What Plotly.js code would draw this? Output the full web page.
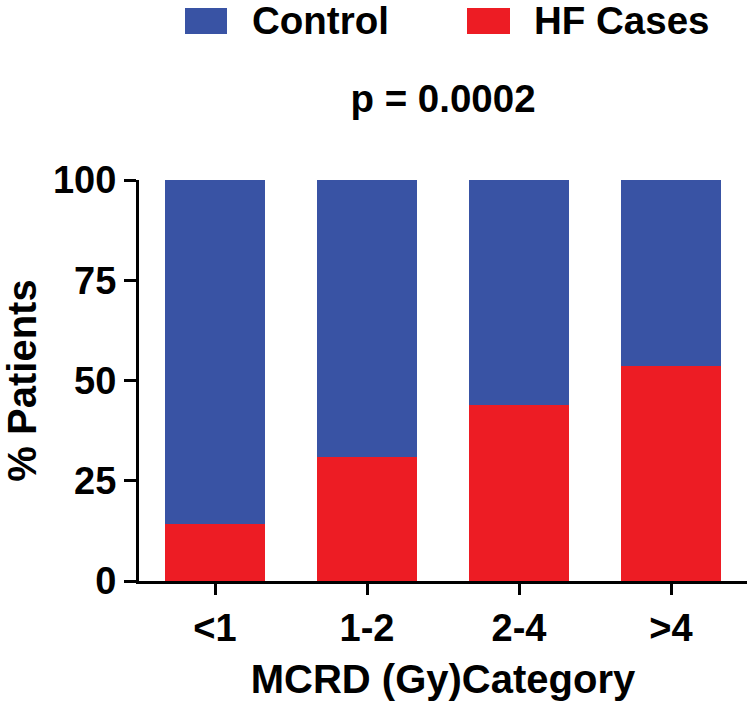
<!DOCTYPE html>
<html>
<head>
<meta charset="utf-8">
<script src="https://cdn.plot.ly/plotly-3.0.1.min.js"></script>
<style>html,body{margin:0;padding:0;background:#fff;}#chart{width:755px;height:712px;}</style>
</head>
<body>
<div id="chart"></div>
<script>
// ---- data ----
const categories = ['<1', '1-2', '2-4', '>4'];
const hfCases = [14.3, 31.0, 44.0, 53.6];
const control = [85.7, 69.0, 56.0, 46.4];
const seriesNames = ['Control', 'HF Cases'];
const seriesColors = ['#3953A4', '#ED1C24'];
const yTicks = [0, 25, 50, 75, 100];
const pText = 'p = 0.0002';
const xTitle = 'MCRD (Gy)Category';
const yTitle = '% Patients';

const FONT = 'Liberation Sans, Arial, Helvetica, sans-serif';
const W = 755, H = 712;
const M = {l: 139, r: 8, t: 180, b: 131};
const pw = W - M.l - M.r, ph = H - M.t - M.b;
const px = v => (v - M.l) / pw;          // pixel x -> paper x
const py = v => (H - M.b - v) / ph;      // pixel y -> paper y

const traces = [
  {type: 'bar', x: categories, y: hfCases, name: seriesNames[1],
   marker: {color: seriesColors[1], line: {width: 0}}, showlegend: false},
  {type: 'bar', x: categories, y: control, name: seriesNames[0],
   marker: {color: seriesColors[0], line: {width: 0}}, showlegend: false}
];

const f = s => ({family: FONT, size: s, color: '#000', weight: 'bold'});

const layout = {
  width: W, height: H,
  margin: M,
  paper_bgcolor: '#fff', plot_bgcolor: '#fff',
  barmode: 'stack',
  bargap: 0.336,
  showlegend: false,
  title: {text: pText, font: f(38.5), xref: 'paper', x: 0.5, xanchor: 'center',
          yref: 'container', y: 1 - 99 / H, yanchor: 'middle'},
  xaxis: {
    type: 'category', range: [-0.5, 3.5], fixedrange: true,
    showline: true, linecolor: '#000', linewidth: 3,
    ticks: 'outside', ticklen: 11, tickwidth: 3, tickcolor: '#000',
    tickfont: f(38), showgrid: false, zeroline: false,
    title: {text: xTitle, font: f(40), standoff: 18}
  },
  yaxis: {
    range: [0, 100], tickvals: yTicks, fixedrange: true,
    showline: true, linecolor: '#000', linewidth: 3,
    ticks: 'outside', ticklen: 12, tickwidth: 3, tickcolor: '#000',
    tickfont: f(38), showgrid: false, zeroline: false,
    title: {text: yTitle, font: f(40), standoff: 10}
  },
  shapes: [
    {type: 'rect', xref: 'paper', yref: 'paper', x0: px(185), x1: px(227), y0: py(34), y1: py(8),
     fillcolor: seriesColors[0], line: {width: 0}},
    {type: 'rect', xref: 'paper', yref: 'paper', x0: px(467), x1: px(510), y0: py(34), y1: py(8),
     fillcolor: seriesColors[1], line: {width: 0}}
  ],
  annotations: [
    {xref: 'paper', yref: 'paper', x: px(250), y: py(21), xanchor: 'left', yanchor: 'middle',
     text: seriesNames[0], showarrow: false, font: f(38.5)},
    {xref: 'paper', yref: 'paper', x: px(532), y: py(21), xanchor: 'left', yanchor: 'middle',
     text: seriesNames[1], showarrow: false, font: f(38.5)}
  ]
};

Plotly.newPlot('chart', traces, layout, {displayModeBar: false, staticPlot: true});
</script>
</body>
</html>
